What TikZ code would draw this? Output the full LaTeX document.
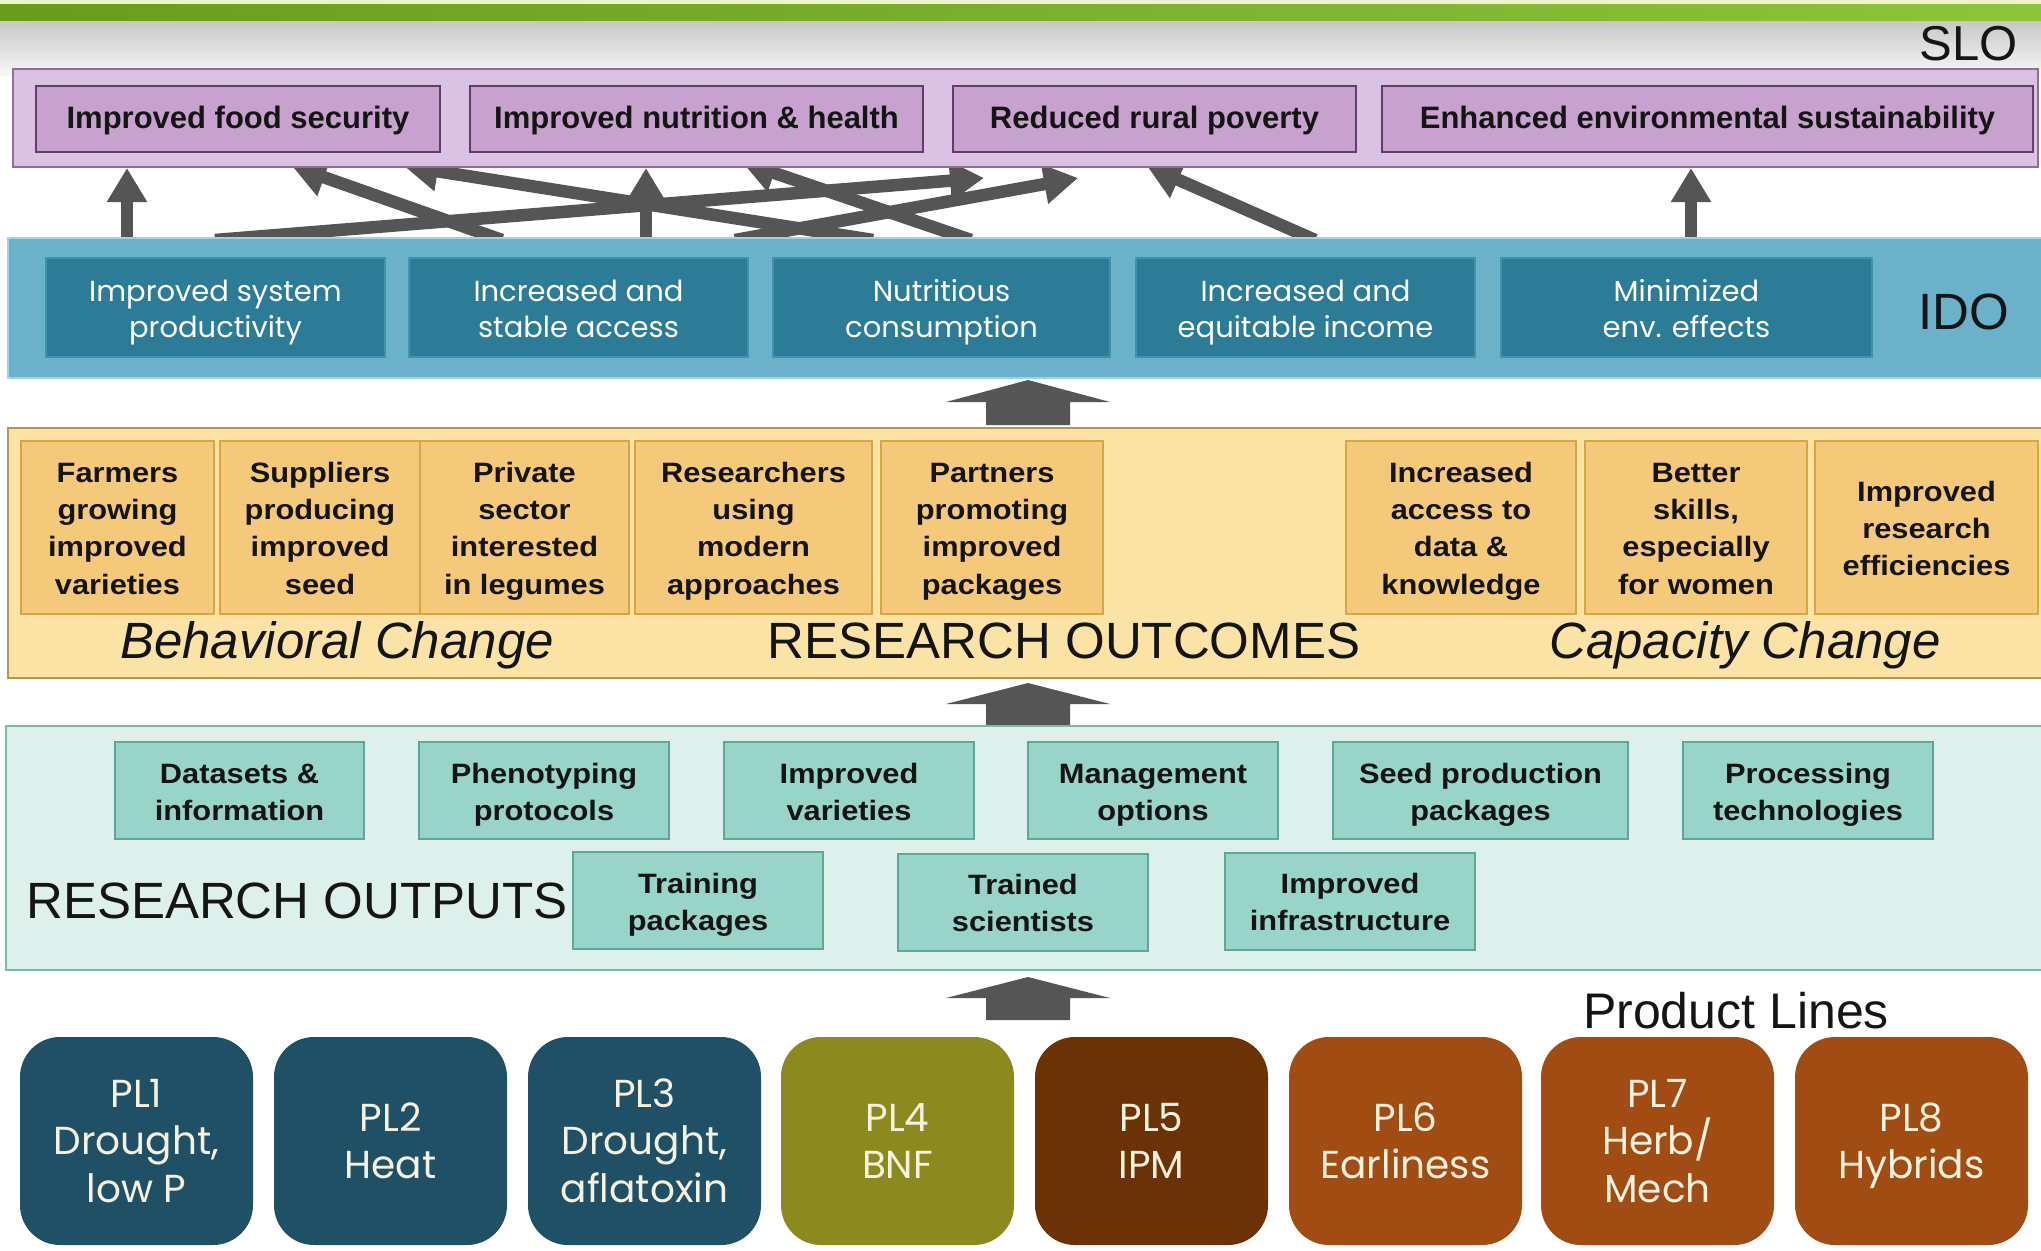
\documentclass[tikz,border=0pt]{standalone}
\usepackage{fontspec}
\setmainfont{Liberation Sans}
\newfontfamily\geofont{Poppins}
\newfontfamily\widefont{Liberation Sans}[FakeStretch=1.1]
\usetikzlibrary{arrows.meta}

% invisible rule opening a multi-line label: sets its first line a little lower
\newcommand\lift{\vrule width 0pt height \dimexpr0.73em+13.5pt\relax depth 0pt\relax}

\definecolor{topstrip}{HTML}{EEF4C8}
\definecolor{greenL}{HTML}{6A9C1C}
\definecolor{greenR}{HTML}{8CC43A}
\definecolor{arrowgray}{HTML}{555555}
\definecolor{slopanelfill}{HTML}{DCC2E2}
\definecolor{slopaneldraw}{HTML}{8F6E97}
\definecolor{sloboxfill}{HTML}{C8A2CF}
\definecolor{sloboxdraw}{HTML}{5E3F66}
\definecolor{idopanelfill}{HTML}{6BB1CA}
\definecolor{idopaneldraw}{HTML}{9FD3E4}
\definecolor{idoboxfill}{HTML}{2C7C98}
\definecolor{idoboxdraw}{HTML}{3F93AF}
\definecolor{outcpanelfill}{HTML}{FAE3A5}
\definecolor{outcpaneldraw}{HTML}{B89452}
\definecolor{outcboxfill}{HTML}{F4C97A}
\definecolor{outcboxdraw}{HTML}{D8A545}
\definecolor{outppanelfill}{HTML}{DDF0EC}
\definecolor{outppaneldraw}{HTML}{78BBAA}
\definecolor{outpboxfill}{HTML}{98D4C7}
\definecolor{outpboxdraw}{HTML}{5DA796}
\definecolor{plteal}{HTML}{1F5066}
\definecolor{plolive}{HTML}{8C8A1E}
\definecolor{plbrown}{HTML}{6B3206}
\definecolor{plrust}{HTML}{A04C12}
\definecolor{pltext}{HTML}{F6F1DE}
\definecolor{ink}{HTML}{151515}

\begin{document}
\begin{tikzpicture}[x=1pt,y=-1pt,
  panel/.style={rectangle, inner sep=0pt, line width=2pt},
  % invisible rules giving every label the same height and depth
  struts/.style={
    execute at begin node={\vrule width 0pt height \dimexpr0.7\baselineskip+#1\relax depth 0pt},
    execute at end node={\vrule width 0pt height 0pt depth 0.3\baselineskip}},
  slobox/.style={rectangle, inner sep=0pt, line width=2pt, draw=sloboxdraw,
    fill=sloboxfill, minimum height=66pt, text=ink, struts=5pt,
    font=\bfseries\fontsize{31}{37}\selectfont},
  idobox/.style={rectangle, inner sep=0pt, line width=2pt, draw=idoboxdraw,
    fill=idoboxfill, minimum height=99pt, text=white, align=center, struts=0pt,
    font=\geofont\fontsize{29}{36.5}\selectfont},
  outcbox/.style={rectangle, inner sep=0pt, line width=2pt, draw=outcboxdraw,
    fill=outcboxfill, minimum height=173pt, text=ink, align=center, struts=0pt,
    font=\widefont\bfseries\fontsize{28}{37.2}\selectfont},
  outpbox/.style={rectangle, inner sep=0pt, line width=2pt, draw=outpboxdraw,
    fill=outpboxfill, minimum height=97pt, minimum width=250pt, text=ink,
    align=center, struts=0pt, font=\widefont\bfseries\fontsize{28}{37}\selectfont},
  plbox/.style={rectangle, inner sep=0pt, rounded corners=40pt,
    minimum width=233pt, minimum height=208pt, text=pltext, align=center,
    struts=0pt, font=\geofont\fontsize{39}{47.5}\selectfont},
  biglabel/.style={inner sep=0pt, text=ink, font=\fontsize{51}{56}\selectfont},
  thinarrow/.style={draw=arrowgray, line width=12.5pt,
    -{Triangle[width=38pt,length=34pt]}},
  blockarrow/.style={fill=arrowgray}
]
\useasboundingbox (0,0) rectangle (2041,1250);
\fill[white] (0,0) rectangle (2041,1250);

% header band
\fill[topstrip] (0,0) rectangle (2041,5);
\shade[left color=greenL, right color=greenR] (0,4) rectangle (2041,21);
\shade[top color=black!22, bottom color=black!3] (0,21) rectangle (2041,75);

% connectors from the IDO row up to the SLO row (drawn beneath both panels)
\coordinate (va1) at (127,240);  \coordinate (vb1) at (127,168);
\coordinate (va2) at (646,240);  \coordinate (vb2) at (646,168);
\coordinate (va3) at (1691,240); \coordinate (vb3) at (1691,168);
\coordinate (da) at (215,240);   \coordinate (db) at (984,178);
\coordinate (ea) at (502,240);   \coordinate (eb) at (292,166);
\coordinate (fa) at (873,240);   \coordinate (fb) at (404,166);
\coordinate (ga) at (971,240);   \coordinate (gb) at (742,162);
\coordinate (ha) at (735,240);   \coordinate (hb) at (1078,178);
\coordinate (ka) at (1315,240);  \coordinate (kb) at (1147,166);
\foreach \s/\e in {va1/vb1, va2/vb2, va3/vb3, da/db, ea/eb, fa/fb, ga/gb, ha/hb, ka/kb}
  \draw[thinarrow] (\s) -- (\e);

% SLO panel
\node[panel, draw=slopaneldraw, fill=slopanelfill, minimum width=2025pt,
  minimum height=98pt] (slo) at (1025.5,118) {};
\node[slobox, minimum width=404pt] (s1) at (238,119) {Improved food security};
\node[slobox, minimum width=453pt] (s2) at (696.5,119) {Improved nutrition \& health};
\node[slobox, minimum width=403pt] (s3) at (1154.5,119) {Reduced rural poverty};
\node[slobox, minimum width=651pt] (s4) at (1707.5,119) {Enhanced environmental sustainability};
\node[biglabel, anchor=base east, font=\fontsize{49}{54}\selectfont] (slolab) at (2018,60) {SLO};

% IDO panel
\node[panel, draw=idopaneldraw, fill=idopanelfill, minimum width=2040pt,
  minimum height=140pt] (ido) at (1028,308) {};
\node[idobox, minimum width=339pt] (i1) at (215.5,307.5) {\lift Improved system\\productivity};
\node[idobox, minimum width=339pt] (i2) at (578.5,307.5) {\lift Increased and\\stable access};
\node[idobox, minimum width=337pt] (i3) at (941.5,307.5) {\lift Nutritious\\consumption};
\node[idobox, minimum width=339pt] (i4) at (1305.5,307.5) {\lift Increased and\\equitable income};
\node[idobox, minimum width=371pt] (i5) at (1686.5,307.5) {\lift Minimized\\env. effects};
\node[biglabel, anchor=base] (idolab) at (1964,329) {IDO};

% block arrow IDO <- outcomes
\coordinate (up1) at (1028,380);
\fill[blockarrow] (up1) -- ++(82,22) -- ++(-40,0) -- ++(0,23) -- ++(-84,0)
  -- ++(0,-23) -- ++(-40,0) -- cycle;

% research outcomes panel
\node[panel, draw=outcpaneldraw, fill=outcpanelfill, minimum width=2040pt,
  minimum height=250pt] (outc) at (1028,553) {};
\node[outcbox, minimum width=193pt] (o1) at (117.5,527) {\lift Farmers\\growing\\improved\\varieties};
\node[outcbox, minimum width=200pt] (o2) at (320,527) {\lift Suppliers\\producing\\improved\\seed};
\node[outcbox, minimum width=209pt] (o3) at (524.5,527) {\lift Private\\sector\\interested\\in legumes};
\node[outcbox, minimum width=237pt] (o4) at (753.5,527) {\lift Researchers\\using\\modern\\approaches};
\node[outcbox, minimum width=222pt] (o5) at (992,527) {\lift Partners\\promoting\\improved\\packages};
\node[outcbox, minimum width=230pt] (o6) at (1461,527) {\lift Increased\\access to\\data \&\\knowledge};
\node[outcbox, minimum width=222pt] (o7) at (1696,527) {\lift Better\\skills,\\especially\\for women};
\node[outcbox, minimum width=223pt] (o8) at (1926.5,527) {\lift Improved\\research\\efficiencies};
\node[biglabel, anchor=base, font=\itshape\fontsize{51}{56}\selectfont] (behav) at (337,658) {Behavioral Change};
\node[biglabel, anchor=base] (outclab) at (1064,658) {RESEARCH OUTCOMES};
\node[biglabel, anchor=base, font=\itshape\fontsize{51}{56}\selectfont] (capac) at (1745,658) {Capacity Change};

% block arrow outcomes <- outputs
\coordinate (up2) at (1028,683);
\fill[blockarrow] (up2) -- ++(82,21) -- ++(-40,0) -- ++(0,22) -- ++(-84,0)
  -- ++(0,-22) -- ++(-40,0) -- cycle;

% research outputs panel
\node[panel, draw=outppaneldraw, fill=outppanelfill, minimum width=2040pt,
  minimum height=244pt] (outp) at (1026,848) {};
\node[outpbox, minimum width=249pt] (p1) at (239.5,790.5) {\lift Datasets \&\\information};
\node[outpbox] (p2) at (544,790.5) {\lift Phenotyping\\protocols};
\node[outpbox] (p3) at (849,790.5) {\lift Improved\\varieties};
\node[outpbox] (p4) at (1153,790.5) {\lift Management\\options};
\node[outpbox, minimum width=295pt] (p5) at (1480.5,790.5) {\lift Seed production\\packages};
\node[outpbox] (p6) at (1808,790.5) {\lift Processing\\technologies};
\node[outpbox] (q1) at (698,900.5) {\lift Training\\packages};
\node[outpbox] (q2) at (1023,902) {\lift Trained\\scientists};
\node[outpbox] (q3) at (1350,901) {\lift Improved\\infrastructure};
\node[biglabel, anchor=base west] (outplab) at (26,918) {RESEARCH OUTPUTS};

% block arrow outputs <- product lines
\coordinate (up3) at (1028,977);
\fill[blockarrow] (up3) -- ++(82,21) -- ++(-40,0) -- ++(0,22) -- ++(-84,0)
  -- ++(0,-22) -- ++(-40,0) -- cycle;

% product lines
\node[biglabel, anchor=base, font=\fontsize{50}{55}\selectfont] (pllab) at (1736,1028) {Product Lines};
\node[plbox, fill=plteal] (pl1) at (136.5,1141) {\lift PL1\\Drought,\\low P};
\node[plbox, fill=plteal] (pl2) at (390.5,1141) {\lift PL2\\Heat};
\node[plbox, fill=plteal] (pl3) at (644.5,1141) {\lift PL3\\Drought,\\aflatoxin};
\node[plbox, fill=plolive] (pl4) at (897.5,1141) {\lift PL4\\BNF};
\node[plbox, fill=plbrown] (pl5) at (1151.5,1141) {\lift PL5\\IPM};
\node[plbox, fill=plrust] (pl6) at (1405.5,1141) {\lift PL6\\Earliness};
\node[plbox, fill=plrust] (pl7) at (1657.5,1141) {\lift PL7\\Herb/\\Mech};
\node[plbox, fill=plrust] (pl8) at (1911.5,1141) {\lift PL8\\Hybrids};
\end{tikzpicture}
\end{document}
